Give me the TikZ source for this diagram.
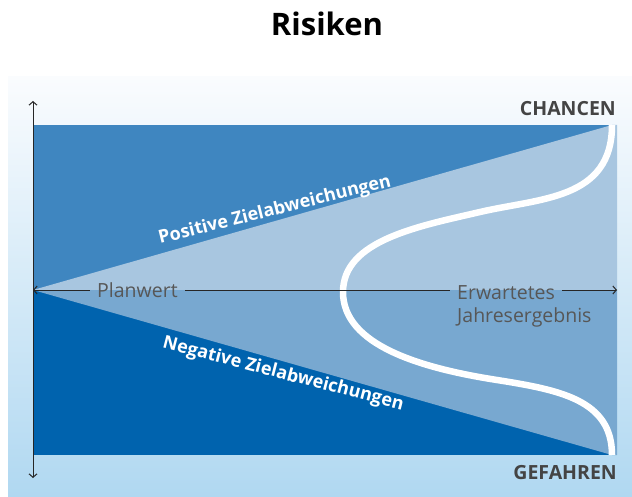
\documentclass[tikz,border=0pt]{standalone}
\usepackage{fontspec}
\setmainfont{Open Sans}
\usepackage{tikz}
\usetikzlibrary{positioning}
\usetikzlibrary{arrows.meta}
\definecolor{panelTop}{HTML}{FAFCFE}
\definecolor{panelBot}{HTML}{B0D8F1}
\definecolor{upDark}{HTML}{3F86C0}
\definecolor{upLight}{HTML}{A8C6E0}
\definecolor{lowLight}{HTML}{78A8D0}
\definecolor{lowDark}{HTML}{0063AE}
\definecolor{labelGrey}{HTML}{444444}

\begin{document}
\begin{tikzpicture}[x=1pt,y=-1pt,
    >={Straight Barb[length=3.5pt,width=8pt]},
    axis/.style={draw=black!85,line width=1pt},
    corner/.style={font=\bfseries\fontsize{19.5}{22}\selectfont,text=labelGrey,inner sep=0pt},
    axislabel/.style={font=\fontsize{19.5}{22}\selectfont,text=labelGrey!90,inner xsep=7pt,inner ysep=0pt},
    edgelabel/.style={font=\bfseries\fontsize{18}{20}\selectfont,text=white,inner sep=0pt}]
        \useasboundingbox (0,0) rectangle (632,497);
        \shade[top color=panelTop,bottom color=panelBot] (8,77) rectangle (632,497);
        \fill[upDark] (33,125) rectangle (617,290);
        \fill[lowDark] (33,290) rectangle (617,455);
        \fill[upLight] (33,290) -- (612,125) -- (617,125) -- (617,290) -- cycle;
        \fill[lowLight] (33,290) -- (612,455) -- (617,455) -- (617,290) -- cycle;
        \draw[white,line width=6.5pt] (612,125) .. controls (612,200) and (540,198) .. (480,212)
            .. controls (420,226) and (343,240) .. (343,292)
            .. controls (343,345) and (420,368) .. (497,380)
            .. controls (560,390) and (612,400) .. (612,455);
        \node[font=\bfseries\fontsize{31}{36}\selectfont,anchor=base] (title) at (327,36) {Risiken};
        \node[corner,anchor=base east] (chancen) at (616,116) {CHANCEN};
        \node[corner,anchor=base east] (gefahren) at (617,479) {GEFAHREN};
        \node[edgelabel,anchor=base,rotate=14] (pos) at (276,215) {Positive Zielabweichungen};
        \node[edgelabel,anchor=base,rotate=-14.5] (neg) at (282,379) {Negative Zielabweichungen};
        \coordinate (top) at (33,101);
        \coordinate (bot) at (33,478);
        \coordinate (o) at (33,290);
        \coordinate (r) at (617,290);
        \node[axislabel,anchor=base west] (plan) at (90,297.5) {Planwert};
        \node[axislabel,anchor=base west] (erw) at (450,299) {Erwartetes};
        \node[axislabel,anchor=base west] (jahr) at (450,322) {Jahresergebnis};
        \draw[axis,<->] (top) -- (bot);
        \draw[axis,<-] (o) -- (o -| plan.west);
        \draw[axis] (o -| plan.east) -- (o -| erw.west);
        \draw[axis,->] (o -| erw.east) -- (r);
    \end{tikzpicture}
\end{document}
